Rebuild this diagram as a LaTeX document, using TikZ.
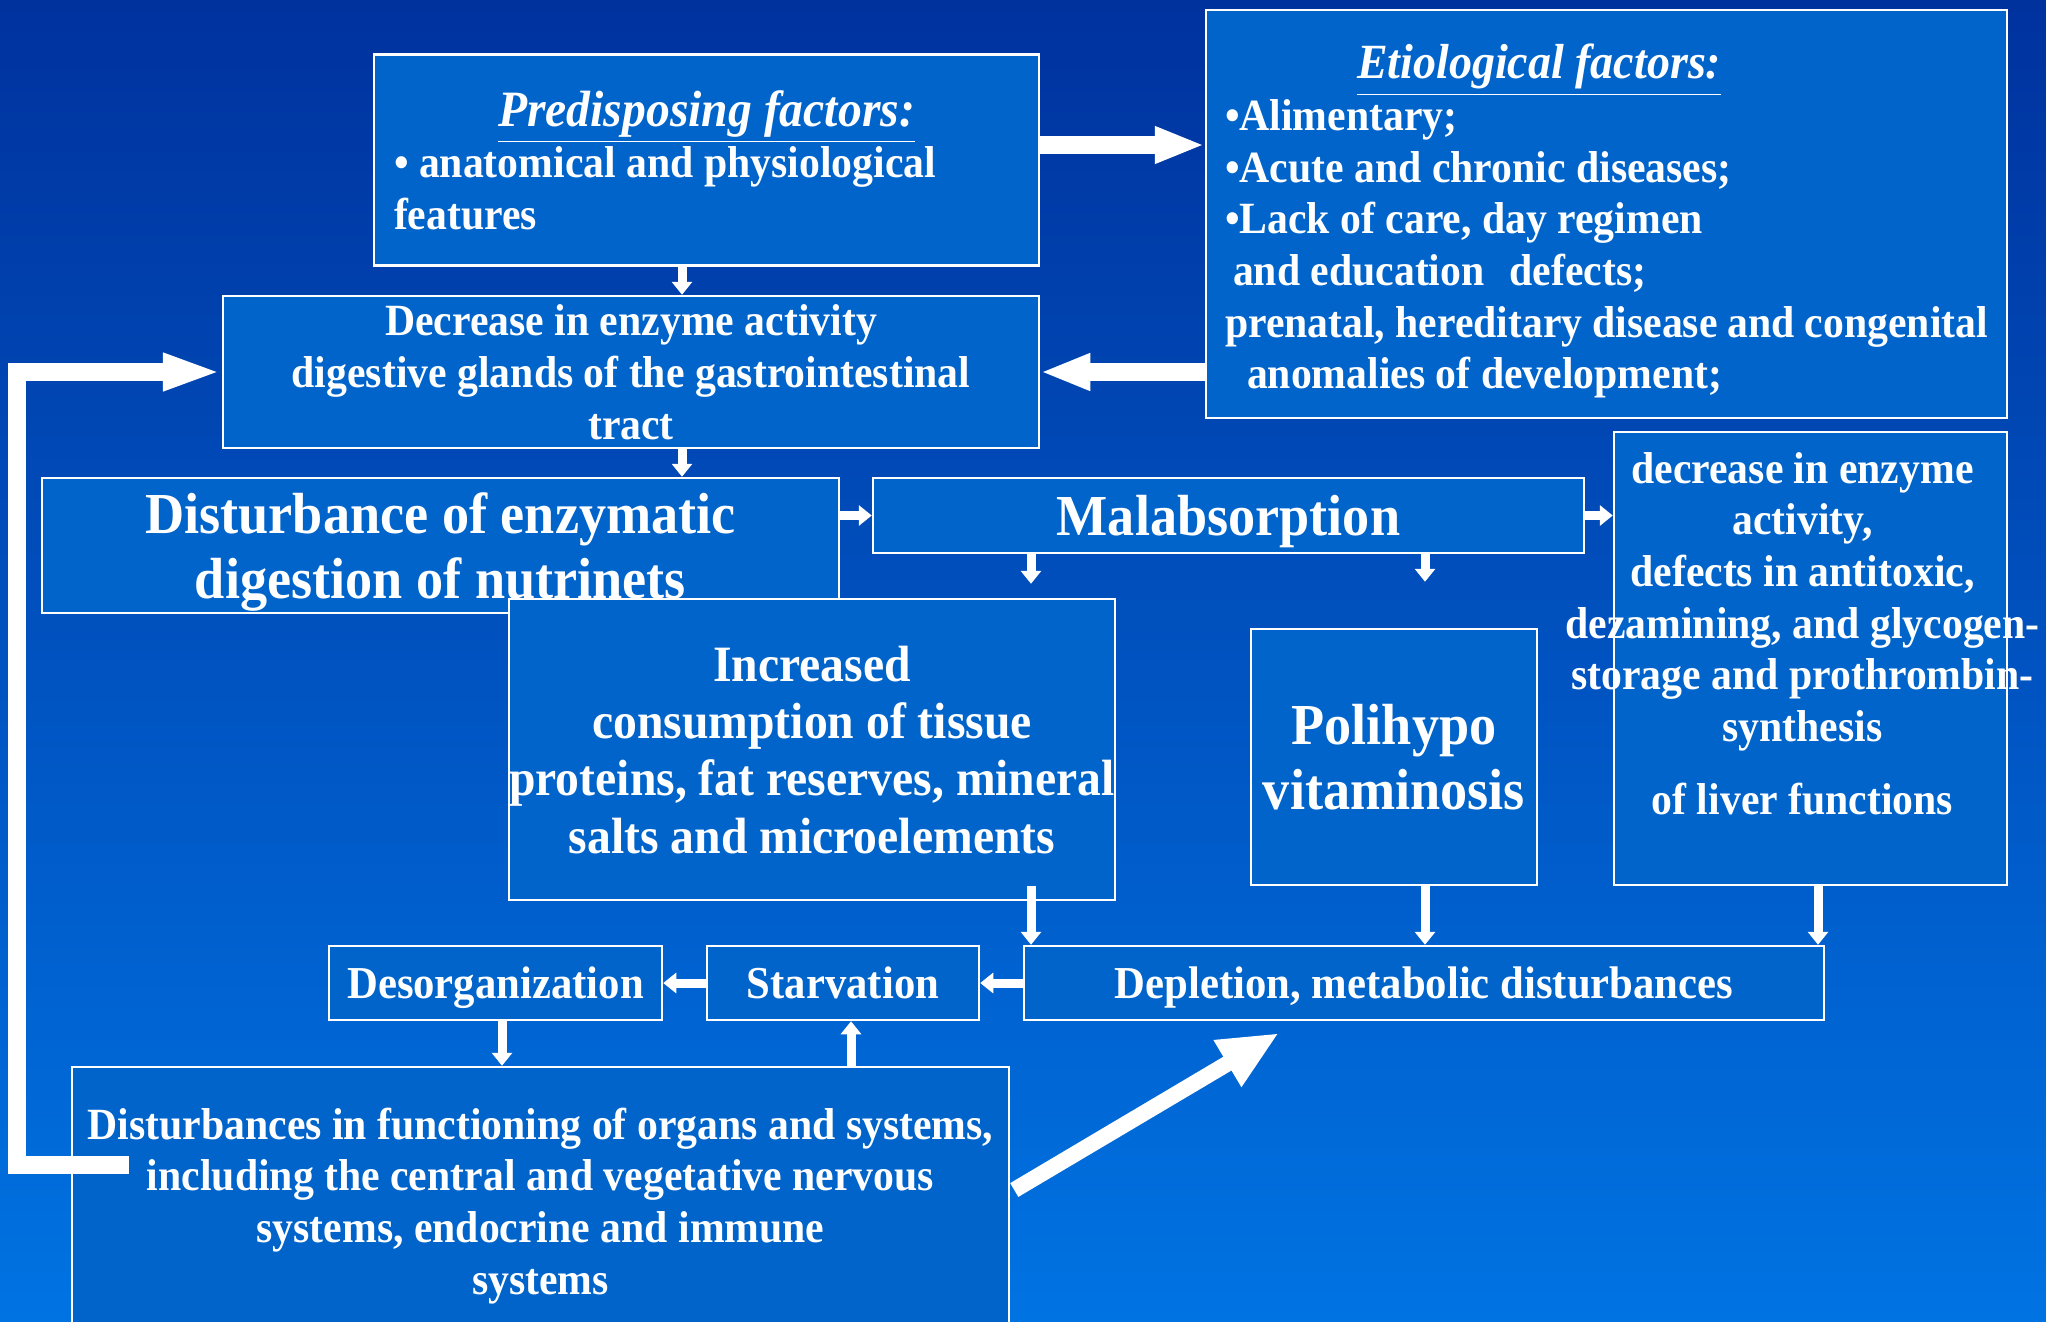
\documentclass[tikz,border=0pt]{standalone}
\usepackage{fontspec}
\setmainfont[FakeStretch=0.935]{Liberation Serif}
\usetikzlibrary{arrows.meta,calc}

\definecolor{bgtop}{RGB}{0,50,158}
\definecolor{bgbot}{RGB}{0,115,226}
\definecolor{boxblue}{RGB}{0,100,202}

\tikzset{
  panel/.style={draw=white,line width=0.25mm,fill=boxblue,text=white,inner sep=0pt,
    align=center,font=\bfseries\fontsize{12.7}{14.7}\selectfont},
  box/.style={panel,text depth=0pt},
  bigtext/.style={font=\bfseries\fontsize{16.5}{18.5}\selectfont},
  midtext/.style={font=\bfseries\fontsize{14.5}{16.3}\selectfont},
  smalltext/.style={font=\bfseries\fontsize{13}{15}\selectfont},
  bigarrow/.style={draw=white,line width=1.8mm,-{Triangle[length=5mm,width=3.4mm]}},
  smallarrow/.style={draw=white,line width=0.9mm,-{Triangle[length=1.3mm,width=2mm]}},
}

\begin{document}
\begin{tikzpicture}[x=0.1mm,y=-0.1mm]

\shade[top color=bgtop,bottom color=bgbot] (0,0) rectangle (2046,1321);
\useasboundingbox (0,0) rectangle (2046,1321);
\clip (0,0) rectangle (2046,1321);

% factors
\node[panel,minimum width=66.5mm,minimum height=21.1mm,text width=62.5mm,align=flush left] (predisp) at (706.5,160)
  {\makebox[\linewidth]{\fontsize{14.5}{16}\selectfont\itshape\underline{Predisposing factors:}}\\
   • anatomical and physiological\\
   features};
\node[panel,minimum width=80.1mm,minimum height=40.8mm,text width=76.3mm,align=flush left] (etio) at (1606.5,214)
  {\rule{0pt}{14pt}\hspace*{13.2mm}{\fontsize{14}{16}\selectfont\itshape\underline{Etiological factors:}}\\
   •Alimentary;\\
   •Acute and chronic diseases;\\
   •Lack of care, day regimen\\
   \hspace*{0.8mm}and education\hspace*{2.5mm}defects;\\
   prenatal, hereditary disease and congenital\\
   \hspace*{2.2mm}anomalies of development;};
\node[box,minimum width=81.6mm,minimum height=15.2mm] (decrease) at (631,372)
  {Decrease in enzyme activity\\
   digestive glands of the gastrointestinal\\
   tract};

% middle row
\node[box,bigtext,minimum width=79.7mm,minimum height=13.5mm] (disturb) at (440.5,545.5)
  {Disturbance of enzymatic\\ digestion of nutrinets};
\node[box,bigtext,minimum width=71.1mm,minimum height=7.5mm] (malab) at (1228.5,515.5) {Malabsorption};
\node[box,minimum width=39.3mm,minimum height=45.3mm] (liver) at (1810.5,658.5) {};
\node[text=white,align=center,inner sep=0pt,font=\bfseries\fontsize{12.7}{14.7}\selectfont] (livertxt)
  at ($(liver.center)+(-8,-25)$)
  {decrease in enzyme\\ activity,\\ defects in antitoxic,\\ dezamining, and glycogen-\\
   storage and prothrombin-\\ synthesis\\[6pt] of liver functions};
\node[box,midtext,minimum width=60.4mm,minimum height=30.1mm] (increased) at (812,749.5)
  {Increased\\ consumption of tissue\\ proteins, fat reserves, mineral\\ salts and microelements};
\node[box,bigtext,minimum width=28.6mm,minimum height=25.6mm] (polihypo) at (1394,757)
  {Polihypo\\ vitaminosis};

% lower row
\node[box,smalltext,minimum width=80mm,minimum height=7.4mm] (depletion) at (1424,983)
  {Depletion, metabolic disturbances};
\node[box,smalltext,minimum width=27.2mm,minimum height=7.4mm] (starv) at (843,983) {Starvation};
\node[box,smalltext,minimum width=33.3mm,minimum height=7.4mm] (desorg) at (495.5,983) {Desorganization};
\node[box,minimum width=93.7mm,minimum height=26.8mm] (disturbances) at (540.5,1201)
  {Disturbances in functioning of organs and systems,\\
   including the central and vegetative nervous\\
   systems, endocrine and immune\\
   systems};

% arrows
\draw[bigarrow] (predisp.east |- 0,145) -- (etio.west |- 0,145);
\draw[bigarrow] (etio.west |- decrease.east) -- (decrease.east);
\draw[bigarrow,-{Triangle[length=5.9mm,width=3.4mm]}] ($(disturbances.west)+(58,-36)$) -- ++(-112,0) |- (decrease.west);

\draw[smallarrow] (predisp.south -| 682,0) -- (decrease.north -| 682,0);
\draw[smallarrow] (decrease.south -| 682,0) -- (disturb.north -| 682,0);
\draw[smallarrow] (disturb.east |- malab.west) -- (malab.west);
\draw[smallarrow] (malab.east) -- (liver.west |- malab.east);
\draw[smallarrow] (malab.south -| 1031,0) -- ($(increased.north -| 1031,0)+(0,-14)$);
\draw[smallarrow] (malab.south -| 1425,0) -- ($(polihypo.north -| 1425,0)+(0,-46)$);
\draw[smallarrow] ($(increased.south -| 1031,0)+(0,-15)$) -- (depletion.north -| 1031,0);
\draw[smallarrow] (polihypo.south -| 1425,0) -- (depletion.north -| 1425,0);
\draw[smallarrow] (liver.south -| 1818,0) -- (depletion.north -| 1818,0);
\draw[smallarrow] (depletion.west) -- (starv.east);
\draw[smallarrow] (starv.west) -- (desorg.east);
\draw[smallarrow] (desorg.south -| 502,0) -- (disturbances.north -| 502,0);
\draw[smallarrow] (disturbances.north -| 851,0) -- (starv.south -| 851,0);

\coordinate (diagtip) at (1279,1033);
\draw[bigarrow,line width=1.6mm,-{Triangle[length=6mm,width=5mm]}] ($(disturbances.east)+(4,-11)$) -- (diagtip);

\end{tikzpicture}
\end{document}
